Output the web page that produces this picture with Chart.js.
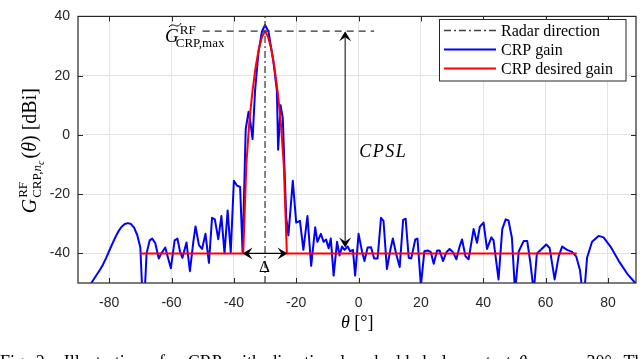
<!DOCTYPE html>
<html>
<head>
<meta charset="utf-8">
<script src="https://cdn.jsdelivr.net/npm/chart.js@4.4.0/dist/chart.umd.min.js"></script>
<style>
html,body{margin:0;padding:0;background:#fff;}
</style>
</head>
<body>
<canvas id="myChart" width="640" height="359"></canvas>
<script>
// CRP gain (blue)
const thetaGain = [-90,-89,-88,-87,-86,-85,-84,-83,-82,-81,-80,-79,-78,-77,-76,-75,-74,-73,-72,-71,-70,-69,
  -68,-67,-66.2,-65.2,-64.1,-63.2,-62,-61,-60.2,-59,-58.1,-57.3,-56.5,-55.2,-54.1,-53,-52.3,-51.2,-50.2,-49.1,
  -48,-47,-46.1,-45,-44,-43,-42,-41,-40,-39,-38,-37.2,-36.2,-35.3,-34.8,-34,-33.2,-32.1,-31,-30,-28.9,-27.3,
  -26.2,-25.8,-25,-24.3,-23.2,-22.5,-21.1,-20,-18.8,-17.7,-16.4,-15.2,-13.9,-13.2,-12.1,-11.2,-10.4,-9.6,-8.9,
  -8,-6.9,-6.1,-5.3,-4.5,-3.5,-2.7,-1.8,-1.1,0,1.1,1.9,2.9,4,5,6.1,7.2,8,9.1,10.2,11,12.1,13.2,14.3,15.1,16.1,
  16.9,18.2,18.9,20,21.1,22.2,23.2,24.1,25.2,26,27.1,28.2,29.2,30.3,31.4,32.4,33.2,34.3,35.3,36.9,38,38.9,40.1,
  41.2,42.6,43.3,44.9,46.1,47.2,48.1,49.2,50.2,51.4,53,54.1,55.1,56.2,57.2,58.5,60.2,61.3,62.9,64.2,65.3,66.9,
  68.5,69.8,71,72.2,73.3,74.9,77,78.6,80.8,83.5,86.2,89];
const crpGain = [-68,-62,-57.5,-53.5,-50.5,-48.8,-47.2,-45.6,-43.8,-41.6,-39.2,-36.8,-34.5,-32.5,-31,-30.1,-29.8,-30.1,-31.3,-33.8,-38,-62,
  -40,-35.6,-35,-36.6,-41.7,-39.9,-38,-42,-45,-35.6,-35,-39.3,-41.5,-36.3,-46,-36,-30.9,-37.2,-38.5,-33.4,
  -43.2,-28,-28.5,-35.2,-27.4,-40,-25.5,-39.6,-15.5,-17.1,-17.6,-39.5,1.9,7.8,5.1,-1.4,14.9,27.9,34.9,37.1,34.9,24.6,
  14.9,-5,10,5.6,-28,-33.9,-15.5,-29.6,-29,-38.8,-27.4,-44.2,-31.2,-36.1,-33.4,-36.1,-35.3,-38.3,-35,
  -47.5,-36.1,-40.7,-37.7,-38.8,-37.7,-39.3,-38.8,-47.5,-33.4,-39.3,-42.6,-38,-37.9,-41.7,-41.7,-28,-29,-45.3,-38.8,-35,-40.4,-44.6,-28.7,-28.3,-41.5,
  -41.7,-35.3,-35,-51,-39.3,-39,-39.6,-43.5,-39,-39,-42.6,-39.6,-38.5,-39.6,-42,-37.7,-35.3,-41,-42,-31.8,-36.4,-31,-29.6,
  -38.5,-34.6,-35.6,-48.8,-31.8,-28.5,-28.9,-34.8,-53,-39.3,-35.8,-35.8,-43,-53,-40,-38.8,-37,-38.2,-48.8,-41,-37.7,-38.8,
  -39.5,-41,-45.5,-56,-41.5,-36.1,-34.1,-34.6,-37.7,-42.6,-46.9,-50.3];

// CRP desired gain (red)
const thetaDesired = [-70,-37,-36,-35,-34,-33,-32,-31,-30,-29,-28,-27,-26,-25,-24,-23,70];
const crpDesired = [-40,-40,-10,5,15,23,29,33,35,33,29,23,15,5,-10,-40,-40];

const radarDir = -30;
const gMax = 35;
const gMaxSpan = [-50, 5];
const cpslSpan = [-38, 35];
const cpslTheta = -4.3;
const deltaSpan = [-37.2, -22.8];
const sideLevel = -40;

const xTicks = [-80,-60,-40,-20,0,20,40,60,80];
const yTicks = [-40,-20,0,20,40];
const legendLabels = ['Radar direction', 'CRP gain', 'CRP desired gain'];

const serif = '"Liberation Serif", "DejaVu Serif", serif';
const sans = '"Liberation Sans", Arial, sans-serif';
const axisCol = '#262626';
const dashDot = [7,3,2,3];

function arrowHead(c, x, y, ang) {
  // MATLAB style concave head, tip at (x,y), pointing along ang
  const L = 10, W = 6;
  c.save();
  c.translate(x, y);
  c.rotate(ang);
  c.beginPath();
  c.moveTo(0, 0);
  c.lineTo(-L, -W);
  c.lineTo(-L * 0.6, 0);
  c.lineTo(-L, W);
  c.closePath();
  c.fill();
  c.restore();
}

function put(c, t, x, y, size, italic, draw) {
  c.font = (italic ? 'italic ' : '') + size + 'px ' + serif;
  if (draw) c.fillText(t, x, y);
  return c.measureText(t).width;
}

function yLabel(c, x0, draw) {
  let x = x0;
  x += put(c, 'G', x, 0, 20, true, draw) + 1;
  const wSup = put(c, 'RF', x, -9, 13, false, draw);
  let xs = x;
  xs += put(c, 'CRP,', xs, 5, 13, false, draw);
  xs += put(c, 'n', xs, 5, 13, true, draw);
  xs += put(c, 'c', xs, 8, 10, true, draw);
  x = Math.max(x + wSup, xs) + 2;
  x += put(c, '(', x, 0, 20, false, draw);
  x += put(c, 'θ', x, 0, 20, true, draw);
  x += put(c, ')', x, 0, 20, false, draw);
  x += put(c, ' [dBi]', x, 0, 20, false, draw);
  return x - x0;
}

function caption(c, x0, y, draw) {
  let x = x0;
  x += put(c, 'Fig. 2.  Illustration of a CRP with directional embedded element at ', x, y, 18, false, draw);
  x += put(c, 'θ', x, y, 18, true, draw);
  x += put(c, 'radar', x, y + 4, 12, false, draw);
  x += put(c, ' = −30°. Th', x, y, 18, false, draw);
  return x - x0;
}

const decorations = {
  id: 'decorations',
  afterDatasetsDraw(chart) {
    const c = chart.ctx;
    const a = chart.chartArea;
    const xs = chart.scales.x, ys = chart.scales.y;
    c.save();

    // box and inside ticks
    c.strokeStyle = axisCol;
    c.lineWidth = 1.2;
    c.strokeRect(a.left, a.top, a.right - a.left, a.bottom - a.top);
    c.lineWidth = 1;
    c.beginPath();
    xTicks.forEach(v => {
      const px = Math.round(xs.getPixelForValue(v)) + 0.5;
      c.moveTo(px, a.bottom); c.lineTo(px, a.bottom - 5);
      c.moveTo(px, a.top); c.lineTo(px, a.top + 5);
    });
    yTicks.forEach(v => {
      const py = Math.round(ys.getPixelForValue(v)) + 0.5;
      c.moveTo(a.left, py); c.lineTo(a.left + 5, py);
      c.moveTo(a.right, py); c.lineTo(a.right - 5, py);
    });
    c.stroke();

    // CPSL double arrow
    c.strokeStyle = '#000';
    c.fillStyle = '#000';
    c.lineWidth = 1;
    const cx = xs.getPixelForValue(cpslTheta);
    const cTop = ys.getPixelForValue(cpslSpan[1]);
    const cBot = ys.getPixelForValue(cpslSpan[0]);
    c.beginPath(); c.moveTo(cx, cTop + 6); c.lineTo(cx, cBot - 6); c.stroke();
    arrowHead(c, cx, cTop, -Math.PI / 2);
    arrowHead(c, cx, cBot, Math.PI / 2);

    // Delta double arrow
    const dy = ys.getPixelForValue(sideLevel);
    const dl = xs.getPixelForValue(deltaSpan[0]);
    const dr = xs.getPixelForValue(deltaSpan[1]);
    c.lineWidth = 1.3;
    c.beginPath(); c.moveTo(dl + 6, dy); c.lineTo(dr - 6, dy); c.stroke();
    arrowHead(c, dl, dy, Math.PI);
    arrowHead(c, dr, dy, 0);

    // texts
    c.fillStyle = '#000';
    c.textBaseline = 'alphabetic';
    c.textAlign = 'left';
    put(c, 'Δ', xs.getPixelForValue((deltaSpan[0] + deltaSpan[1]) / 2) - 6, dy + 19, 17, false, true);

    c.save();
    c.letterSpacing = '1.5px';
    put(c, 'CPSL', cx + 14, ys.getPixelForValue(cpslSpan[1]) + 126, 18, true, true);
    c.restore();

    // G~ RF CRP,max label
    const gx = 165, gy = 42;
    const wG = put(c, 'G', gx, gy, 19, true, true);
    c.lineWidth = 1;
    c.beginPath();
    c.moveTo(gx + 4, gy - 15);
    c.bezierCurveTo(gx + 7, gy - 19, gx + 10, gy - 16, gx + 12, gy - 16);
    c.bezierCurveTo(gx + 14, gy - 16, gx + 15, gy - 17, gx + 16, gy - 19);
    c.stroke();
    put(c, 'RF', gx + wG + 1, gy - 8, 13, false, true);
    put(c, 'CRP,max', gx + wG - 3, gy + 5, 13, false, true);

    // y label
    c.save();
    const cyMid = (a.top + a.bottom) / 2 + 1;
    c.translate(36, cyMid);
    c.rotate(-Math.PI / 2);
    const w = yLabel(c, 0, false);
    yLabel(c, -w / 2, true);
    c.restore();

    // x label
    const xm = (a.left + a.right) / 2;
    let tx = xm - 16;
    tx += put(c, 'θ', tx, 328, 18, true, true);
    put(c, ' [°]', tx, 328, 18, false, true);

    // legend
    const lx = 439.5, ly = 19.5, lw = 186.5, lh = 61.5;
    c.fillStyle = '#fff';
    c.fillRect(lx, ly, lw, lh);
    c.strokeStyle = axisCol;
    c.lineWidth = 1;
    c.strokeRect(lx, ly, lw, lh);
    const rows = [30.5, 49.5, 68.5];
    const cols = ['#404040', '#0000ff', '#ff0000'];
    rows.forEach((ry, i) => {
      c.strokeStyle = cols[i];
      c.lineWidth = i === 0 ? 1.3 : 2;
      c.setLineDash(i === 0 ? dashDot : []);
      c.beginPath(); c.moveTo(444, ry); c.lineTo(496, ry); c.stroke();
      c.setLineDash([]);
      c.fillStyle = '#000';
      put(c, legendLabels[i], 501, ry + 5, 16, false, true);
    });

    // caption (cut by the picture edge), justified to the page width
    c.fillStyle = '#000';
    c.save();
    const natural = caption(c, 0, 0, false);
    const gaps = 13;
    c.wordSpacing = Math.max(0, (638 - natural) / gaps).toFixed(2) + 'px';
    caption(c, 0, 368, true);
    c.restore();
    c.restore();
  }
};

const ctx = document.getElementById('myChart').getContext('2d');
const myChart = new Chart(ctx, {
  type: 'line',
  data: {
    datasets: [
      {
        label: legendLabels[0],
        data: [{x: radarDir, y: -50}, {x: radarDir, y: 40}],
        borderColor: '#404040', borderWidth: 1.3, borderDash: dashDot, order: 0
      },
      {
        label: 'max',
        data: [{x: gMaxSpan[0], y: gMax}, {x: gMaxSpan[1], y: gMax}],
        borderColor: '#333', borderWidth: 1.2, borderDash: [7, 5], order: 1
      },
      {
        label: legendLabels[2],
        data: thetaDesired.map((t, i) => ({x: t, y: crpDesired[i]})),
        borderColor: '#ff0000', borderWidth: 2, order: 2
      },
      {
        label: legendLabels[1],
        data: thetaGain.map((t, i) => ({x: t, y: crpGain[i]})),
        borderColor: '#0000ff', borderWidth: 2, borderJoinStyle: 'round', order: 3
      }
    ]
  },
  options: {
    responsive: false,
    animation: false,
    devicePixelRatio: 1,
    clip: 0,
    elements: { point: { radius: 0 }, line: { tension: 0, fill: false } },
    layout: { padding: { left: 0, right: 4, top: 6, bottom: 0 } },
    plugins: { legend: { display: false }, tooltip: { enabled: false } },
    scales: {
      x: {
        type: 'linear', min: -90, max: 89,
        afterBuildTicks: s => { s.ticks = xTicks.map(v => ({value: v})); },
        afterFit: s => { s.height = 76; },
        grid: { color: '#e3e3e3', lineWidth: 1, drawTicks: false },
        border: { display: false },
        ticks: { font: { family: sans, size: 14 }, color: axisCol, padding: 12, maxRotation: 0, autoSkip: false }
      },
      y: {
        type: 'linear', min: -50, max: 40,
        afterBuildTicks: s => { s.ticks = yTicks.map(v => ({value: v})); },
        afterFit: s => { s.width = 78; },
        grid: { color: '#e3e3e3', lineWidth: 1, drawTicks: false },
        border: { display: false },
        ticks: { font: { family: sans, size: 14 }, color: axisCol, padding: 8 }
      }
    }
  },
  plugins: [decorations]
});
</script>
</body>
</html>
